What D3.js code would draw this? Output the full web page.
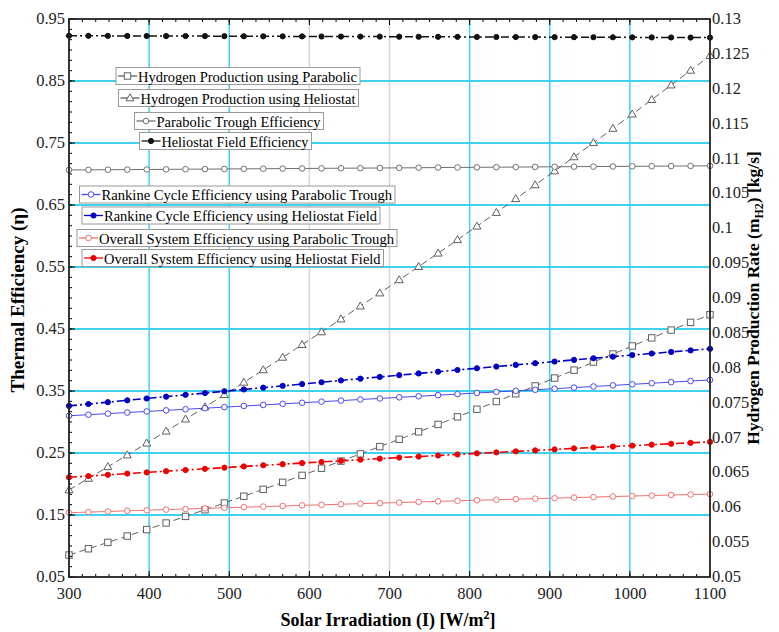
<!DOCTYPE html>
<html><head><meta charset="utf-8">
<script src="https://cdn.jsdelivr.net/npm/d3@7"></script>
<style>body{margin:0;background:#fff}svg{display:block}text{font-family:"Liberation Serif","Times New Roman",serif}</style>
</head><body><svg id="c" width="779" height="632"></svg>
<script>
const irradiance = [300,324.24,348.48,372.73,396.97,421.21,445.45,469.70,493.94,518.18,542.42,566.67,590.91,615.15,639.39,663.64,687.88,712.12,736.36,760.61,784.85,809.09,833.33,857.58,881.82,906.06,930.30,954.55,978.79,1003.03,1027.27,1051.52,1075.76,1100];
const h2Parabolic = [0.05315,0.05405,0.05496,0.05587,0.05680,0.05774,0.05869,0.05964,0.06061,0.06158,0.06257,0.06357,0.06457,0.06559,0.06661,0.06765,0.06869,0.06974,0.07081,0.07188,0.07296,0.07405,0.07516,0.07627,0.07739,0.07852,0.07966,0.08081,0.08197,0.08312,0.08428,0.08540,0.08650,0.08760];
const h2Heliostat = [0.06247,0.06413,0.06580,0.06748,0.06918,0.07089,0.07262,0.07437,0.07613,0.07790,0.07968,0.08148,0.08330,0.08513,0.08697,0.08883,0.09070,0.09259,0.09449,0.09641,0.09834,0.10028,0.10224,0.10422,0.10620,0.10820,0.11022,0.11225,0.11430,0.11636,0.11843,0.12052,0.12263,0.12474];
const troughEff = [0.7065,0.7067,0.7069,0.7071,0.7073,0.7075,0.7077,0.7079,0.7081,0.7083,0.7085,0.7087,0.7089,0.7091,0.7093,0.7095,0.7097,0.7099,0.7101,0.7104,0.7106,0.7108,0.7110,0.7112,0.7114,0.7116,0.7118,0.7120,0.7122,0.7124,0.7126,0.7128,0.7130,0.7132];
const heliostatEff = [0.9230,0.9229,0.9228,0.9227,0.9226,0.9225,0.9225,0.9224,0.9223,0.9222,0.9221,0.9220,0.9219,0.9218,0.9217,0.9216,0.9216,0.9215,0.9214,0.9213,0.9212,0.9211,0.9210,0.9209,0.9208,0.9207,0.9207,0.9206,0.9205,0.9204,0.9203,0.9202,0.9201,0.9200];
const rankineTrough = [0.3100,0.3118,0.3135,0.3153,0.3170,0.3188,0.3205,0.3223,0.3240,0.3258,0.3275,0.3293,0.3310,0.3328,0.3345,0.3363,0.3380,0.3398,0.3415,0.3433,0.3450,0.3468,0.3485,0.3503,0.3520,0.3538,0.3555,0.3573,0.3590,0.3608,0.3625,0.3643,0.3660,0.3678];
const rankineHeliostat = [0.3260,0.3290,0.3320,0.3350,0.3379,0.3409,0.3438,0.3467,0.3496,0.3525,0.3554,0.3583,0.3612,0.3641,0.3670,0.3699,0.3727,0.3755,0.3783,0.3811,0.3839,0.3867,0.3894,0.3921,0.3948,0.3975,0.4002,0.4028,0.4054,0.4080,0.4105,0.4130,0.4155,0.4180];
const overallTrough = [0.1537,0.1547,0.1557,0.1567,0.1577,0.1587,0.1597,0.1607,0.1616,0.1626,0.1636,0.1645,0.1655,0.1664,0.1674,0.1683,0.1692,0.1701,0.1711,0.1720,0.1729,0.1738,0.1746,0.1755,0.1764,0.1772,0.1781,0.1789,0.1798,0.1806,0.1814,0.1822,0.1830,0.1838];
const overallHeliostat = [0.2108,0.2128,0.2148,0.2168,0.2187,0.2207,0.2226,0.2245,0.2264,0.2283,0.2302,0.2320,0.2338,0.2356,0.2374,0.2392,0.2409,0.2426,0.2443,0.2460,0.2477,0.2494,0.2510,0.2526,0.2542,0.2558,0.2574,0.2589,0.2604,0.2619,0.2634,0.2649,0.2664,0.2679];

const xTicks = [300,400,500,600,700,800,900,1000,1100];
const leftTicks = [0.05,0.15,0.25,0.35,0.45,0.55,0.65,0.75,0.85,0.95];
const rightTicks = [0.05,0.055,0.06,0.065,0.07,0.075,0.08,0.085,0.09,0.095,0.1,0.105,0.11,0.115,0.12,0.125,0.13];
const cyanX = [400,500,800,900,1000];
const grayX = [600,700];
const cyanY = [0.15,0.25,0.35,0.45,0.55,0.65,0.75,0.85];

const legendLabels = ["Hydrogen Production using Parabolic","Hydrogen Production using Heliostat","Parabolic Trough Efficiency","Heliostat Field Efficiency","Rankine Cycle Efficiency using Parabolic Trough","Rankine Cycle Efficiency using Heliostat Field","Overall System Efficiency using Parabolic Trough","Overall System Efficiency using Heliostat Field"];

const L=69,R=710,T=19,B=577;
const svg=d3.select("#c");
const x=d3.scaleLinear().domain([300,1100]).range([L,R]);
const yL=d3.scaleLinear().domain([0.05,0.95]).range([B,T]);
const yR=d3.scaleLinear().domain([0.05,0.13]).range([B,T]);

// grid
const g=svg.append("g");
g.selectAll(".gx").data(grayX).join("line").attr("x1",d=>x(d)).attr("x2",d=>x(d)).attr("y1",T).attr("y2",B).attr("stroke","#d4d4d4").attr("stroke-width",1.5);
g.selectAll(".cx").data(cyanX).join("line").attr("x1",d=>x(d)).attr("x2",d=>x(d)).attr("y1",T).attr("y2",B).attr("stroke","#3fd2ef").attr("stroke-width",1.5);
g.selectAll(".cy").data(cyanY).join("line").attr("x1",L).attr("x2",R).attr("y1",d=>yL(d)).attr("y2",d=>yL(d)).attr("stroke","#3fd2ef").attr("stroke-width",1.8);

const series=[
 {v:h2Parabolic,y:yR,color:"#606060",dash:"7,4",marker:"square",fill:"#fff",w:1},
 {v:h2Heliostat,y:yR,color:"#606060",dash:"7,4",marker:"triangle",fill:"#fff",w:1},
 {v:troughEff,y:yL,color:"#707070",dash:null,marker:"circle",fill:"#fff",w:1},
 {v:heliostatEff,y:yL,color:"#111",dash:"8,3,2,3",marker:"circle",fill:"#111",w:1.5},
 {v:rankineTrough,y:yL,color:"#4848f0",dash:null,marker:"circle",fill:"#fff",w:1},
 {v:rankineHeliostat,y:yL,color:"#0000c0",dash:"8,3,2,3",marker:"circle",fill:"#0000c0",w:1.6},
 {v:overallTrough,y:yL,color:"#f07070",dash:null,marker:"circle",fill:"#fff",w:1},
 {v:overallHeliostat,y:yL,color:"#ee0000",dash:"8,3,2,3",marker:"circle",fill:"#ee0000",w:1.6}
];
function drawMarker(sel,s,cx,cy){
  if(s.marker==="circle") sel.append("circle").attr("cx",cx).attr("cy",cy).attr("r",s.fill==="#fff"?2.8:2.6).attr("fill",s.fill).attr("stroke",s.color).attr("stroke-width",1);
  else if(s.marker==="square") sel.append("rect").attr("x",cx-3.2).attr("y",cy-3.2).attr("width",6.4).attr("height",6.4).attr("fill","#fff").attr("stroke",s.color).attr("stroke-width",1);
  else sel.append("path").attr("d",`M${cx},${cy-4.2}L${cx+4},${cy+2.8}L${cx-4},${cy+2.8}Z`).attr("fill","#fff").attr("stroke",s.color).attr("stroke-width",1);
}
const plot=svg.append("g");
series.forEach(s=>{
  const line=d3.line().x((d,i)=>x(irradiance[i])).y(d=>s.y(d));
  plot.append("path").attr("d",line(s.v)).attr("fill","none").attr("stroke",s.color).attr("stroke-width",s.w).attr("stroke-dasharray",s.dash);
  const mg=plot.append("g");
  s.v.forEach((d,i)=>drawMarker(mg,s,x(irradiance[i]),s.y(d)));
});

// axes frame
const ax=svg.append("g");
const minorX=d3.range(0,49).map(i=>300+i*100/6);
const minorY=d3.range(0,55).map(i=>0.05+i*0.1/6);
ax.selectAll(".mxb").data(minorX).join("line").attr("x1",d=>x(d)).attr("x2",d=>x(d)).attr("y1",B).attr("y2",B-3).attr("stroke","#000");
ax.selectAll(".mxt").data(minorX).join("line").attr("x1",d=>x(d)).attr("x2",d=>x(d)).attr("y1",T).attr("y2",T+3).attr("stroke","#000");
ax.selectAll(".myl").data(minorY).join("line").attr("x1",L).attr("x2",L+3).attr("y1",d=>yL(d)).attr("y2",d=>yL(d)).attr("stroke","#000");
ax.selectAll(".MYl").data(leftTicks).join("line").attr("x1",L).attr("x2",L+6).attr("y1",d=>yL(d)).attr("y2",d=>yL(d)).attr("stroke","#000");
ax.selectAll(".MXb").data(xTicks).join("line").attr("x1",d=>x(d)).attr("x2",d=>x(d)).attr("y1",B).attr("y2",B-6).attr("stroke","#000");
ax.selectAll(".MXt").data(xTicks).join("line").attr("x1",d=>x(d)).attr("x2",d=>x(d)).attr("y1",T).attr("y2",T+6).attr("stroke","#000");
ax.append("rect").attr("x",L).attr("y",T).attr("width",R-L).attr("height",B-T).attr("fill","none").attr("stroke","#222").attr("stroke-width",1.8);

// tick labels
svg.append("g").selectAll("text").data(leftTicks).join("text").attr("x",L-4).attr("y",d=>yL(d)+5).attr("text-anchor","end").attr("font-size",16.5).attr("fill","#222").text(d=>d.toFixed(2));
svg.append("g").selectAll("text").data(rightTicks).join("text").attr("x",R+2).attr("y",d=>yR(d)+5).attr("font-size",16.5).attr("fill","#222").text(d=>String(d));
svg.append("g").selectAll("text").data(xTicks).join("text").attr("x",d=>x(d)).attr("y",B+22).attr("text-anchor","middle").attr("font-size",16.5).attr("fill","#222").text(d=>d);

// titles
svg.append("text").attr("transform",`translate(24,300) rotate(-90)`).attr("text-anchor","middle").attr("font-size",19).attr("font-weight","bold").text("Thermal Efficiency (η)");
const rt=svg.append("text").attr("transform",`translate(759,298) rotate(-90)`).attr("text-anchor","middle").attr("font-size",17.5).attr("font-weight","bold");
rt.append("tspan").text("Hydrogen Production Rate (m");
rt.append("tspan").attr("font-size",12).attr("dy",4).text("H2");
rt.append("tspan").attr("dy",-4).text(") [kg/s]");
const bt=svg.append("text").attr("x",388).attr("y",626).attr("text-anchor","middle").attr("font-size",18).attr("font-weight","bold");
bt.append("tspan").text("Solar Irradiation (I) [W/m");
bt.append("tspan").attr("font-size",12).attr("dy",-7).text("2");
bt.append("tspan").attr("dy",7).text("]");

// legends: [x, y-top, width] of each box
const legendBoxes=[[116,67.5,244],[118.5,89.5,240],[134.5,112.5,189],[139.5,132.5,172],[79.5,186,315.5],[82,207,298],[77,229.5,320],[82,249.5,301.5]];
const lg=svg.append("g");
legendLabels.forEach((lab,i)=>{
  const s=series[i];const [bx,by,bw]=legendBoxes[i];
  const gg=lg.append("g");
  gg.append("rect").attr("x",bx).attr("y",by).attr("height",17).attr("width",bw).attr("fill","#fff").attr("stroke","#999").attr("stroke-width",1);
  gg.append("line").attr("x1",bx+2).attr("x2",bx+21).attr("y1",by+8.5).attr("y2",by+8.5).attr("stroke",s.color).attr("stroke-width",1.3);
  drawMarker(gg,s,bx+11.5,by+8.5);
  gg.append("text").attr("x",bx+22).attr("y",by+14).attr("font-size",15.5).attr("textLength",bw-25).attr("lengthAdjust","spacingAndGlyphs").text(lab);
});
</script></body></html>
